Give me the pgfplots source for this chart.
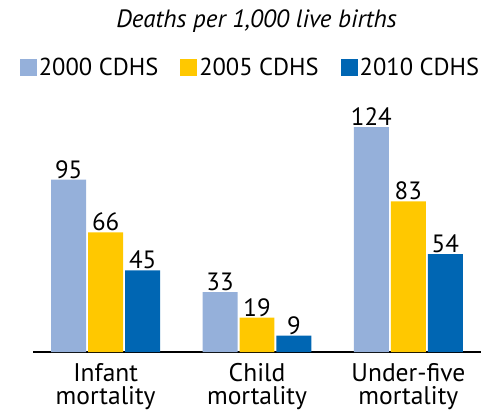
\documentclass[border=0pt]{standalone}
\usepackage{pgfplots}
\pgfplotsset{compat=1.18}
\usepackage{fontspec}
\setmainfont{PT Sans}
\definecolor{c1}{RGB}{149,176,218}
\definecolor{c2}{RGB}{255,200,0}
\definecolor{c3}{RGB}{0,102,179}
\begin{document}
\begin{tikzpicture}
\begin{axis}[
 scale only axis, width=448pt, height=254pt,
 xmin=-0.48, xmax=2.48, ymin=0, ymax=140,
 ybar=2pt, bar width=35pt,
 axis y line=none, axis x line*=bottom,
 axis line style={line width=1.6pt,-},
 xtick={0,1,2},
 xticklabels={Infant\\mortality, Child\\mortality, Under-five\\mortality},
 xticklabel style={align=center, font=\fontsize{25.5}{23.5}\selectfont, inner sep=0pt, yshift=-11pt},
 major tick length=0pt,
 /pgf/number format/assume math mode=true,
 nodes near coords,
 nodes near coords style={font=\fontsize{25}{25}\selectfont, inner sep=1pt, text=black},
 clip=false,
 legend columns=3,
 legend style={draw=none, fill=none, at={(rel axis cs:0.4855,1.122)}, anchor=center,
   font=\fontsize{24.5}{24}\selectfont, inner sep=0pt,
   /tikz/every even column/.append style={column sep=20pt},
   nodes={inner sep=2pt}},
 legend image code/.code={\fill[#1, draw=none] (0pt,-8.5pt) rectangle (17pt,8.5pt);},
]
\addplot[fill=c1, draw=none] coordinates {(0,95) (1,33) (2,124)};
\addplot[fill=c2, draw=none] coordinates {(0,66) (1,19) (2,83)};
\addplot[fill=c3, draw=none] coordinates {(0,45) (1,9) (2,54)};
\legend{2000 CDHS, 2005 CDHS, 2010 CDHS}
\node[font=\fontsize{25}{25}\selectfont\itshape, anchor=base] at (rel axis cs:0.499,1.276) {Deaths per 1,000 live births};
\path (rel axis cs:-0.0737,-0.244) rectangle (rel axis cs:1.0246,1.386);
\end{axis}
\end{tikzpicture}
\end{document}
